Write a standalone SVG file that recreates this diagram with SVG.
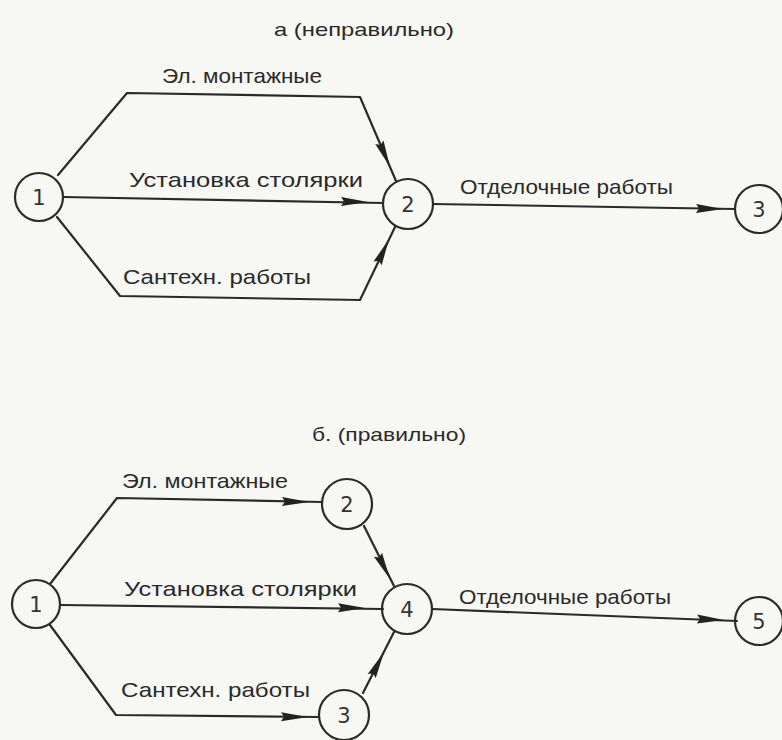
<svg xmlns="http://www.w3.org/2000/svg" xmlns:xlink="http://www.w3.org/1999/xlink" width="782" height="740" viewBox="0 0 782 740">
  <style>
    .bg { fill: #f7f7f4; }
    .edge { fill: none; stroke: #2a2a2a; stroke-width: 2.2; stroke-linejoin: round; stroke-linecap: round; }
    .node circle { fill: none; stroke: #2a2a2a; stroke-width: 2.2; }
    .num { font-family: "DejaVu Sans", "Liberation Sans", sans-serif; font-size: 21px; fill: #333; text-anchor: middle; }
    .lbl { font-family: "Liberation Sans", "DejaVu Sans", sans-serif; font-size: 21px; fill: #2a2a2a; }
    .ttl { font-family: "Liberation Sans", "DejaVu Sans", sans-serif; font-size: 19px; fill: #2a2a2a; }
    .head { fill: #222; }
  </style>
  <defs>
    <!-- long, narrow arrowhead; tip at the origin pointing along +x -->
    <path id="ah" class="head" d="M0,0 L-27,-4.5 L-24,0 L-27,4.5 Z"/>
  </defs>

  <rect class="bg" x="0" y="0" width="782" height="740"/>

  <!-- ===== а (неправильно) ===== -->
  <text class="ttl" x="274" y="36" textLength="180" lengthAdjust="spacingAndGlyphs">а (неправильно)</text>

  <g id="edges-a">
    <path class="edge" d="M58,175 L127,93 L360,97 L396,181"/>
    <path class="edge" d="M63,197 L383,203"/>
    <path class="edge" d="M57,217 L120,296 L360,300 L395,227"/>
    <path class="edge" d="M433,204 L735,209"/>
    <use xlink:href="#ah" transform="translate(390,167) rotate(66.8)"/>
    <use xlink:href="#ah" transform="translate(368,202) rotate(1)"/>
    <use xlink:href="#ah" transform="translate(389,239) rotate(-65)"/>
    <use xlink:href="#ah" transform="translate(723,209) rotate(1)"/>
    <text class="lbl" x="162" y="83" textLength="160" lengthAdjust="spacingAndGlyphs">Эл. монтажные</text>
    <text class="lbl" x="129" y="187" textLength="234" lengthAdjust="spacingAndGlyphs">Установка столярки</text>
    <text class="lbl" x="123" y="284" textLength="188" lengthAdjust="spacingAndGlyphs">Сантехн. работы</text>
    <text class="lbl" x="460" y="194" textLength="213" lengthAdjust="spacingAndGlyphs">Отделочные работы</text>
  </g>

  <g id="a-n1" class="node"><circle cx="39" cy="197" r="24"/><text class="num" x="39" y="205">1</text></g>
  <g id="a-n2" class="node"><circle cx="408" cy="204" r="25"/><text class="num" x="408" y="212">2</text></g>
  <g id="a-n3" class="node"><circle cx="759" cy="209" r="24"/><text class="num" x="759" y="217">3</text></g>

  <!-- ===== б. (правильно) ===== -->
  <text class="ttl" x="312" y="441" textLength="154" lengthAdjust="spacingAndGlyphs">б. (правильно)</text>

  <g id="edges-b">
    <path class="edge" d="M50,584 L117,498 L322,502"/>
    <path class="edge" d="M364,526 L394,586"/>
    <path class="edge" d="M61,605 L383,609"/>
    <path class="edge" d="M50,625 L116,715 L319,717"/>
    <path class="edge" d="M363,693 L394,632"/>
    <path class="edge" d="M432,609 L737,621"/>
    <use xlink:href="#ah" transform="translate(309,502) rotate(1)"/>
    <use xlink:href="#ah" transform="translate(390,579) rotate(63.5)"/>
    <use xlink:href="#ah" transform="translate(365,608) rotate(0.7)"/>
    <use xlink:href="#ah" transform="translate(308,717) rotate(0.5)"/>
    <use xlink:href="#ah" transform="translate(384,652) rotate(-63)"/>
    <use xlink:href="#ah" transform="translate(724,620) rotate(2.2)"/>
    <text class="lbl" x="122" y="488" textLength="166" lengthAdjust="spacingAndGlyphs">Эл. монтажные</text>
    <text class="lbl" x="124" y="596" textLength="233" lengthAdjust="spacingAndGlyphs">Установка столярки</text>
    <text class="lbl" x="121" y="697" textLength="189" lengthAdjust="spacingAndGlyphs">Сантехн. работы</text>
    <text class="lbl" x="459" y="604" textLength="212" lengthAdjust="spacingAndGlyphs">Отделочные работы</text>
  </g>

  <g id="b-n1" class="node"><circle cx="36" cy="604" r="24"/><text class="num" x="36" y="612">1</text></g>
  <g id="b-n2" class="node"><circle cx="347" cy="504" r="25"/><text class="num" x="347" y="512">2</text></g>
  <g id="b-n4" class="node"><circle cx="407" cy="609" r="25"/><text class="num" x="407" y="617">4</text></g>
  <g id="b-n3" class="node"><circle cx="344" cy="715" r="25"/><text class="num" x="344" y="723">3</text></g>
  <g id="b-n5" class="node"><circle cx="759" cy="621" r="24"/><text class="num" x="759" y="629">5</text></g>
</svg>
